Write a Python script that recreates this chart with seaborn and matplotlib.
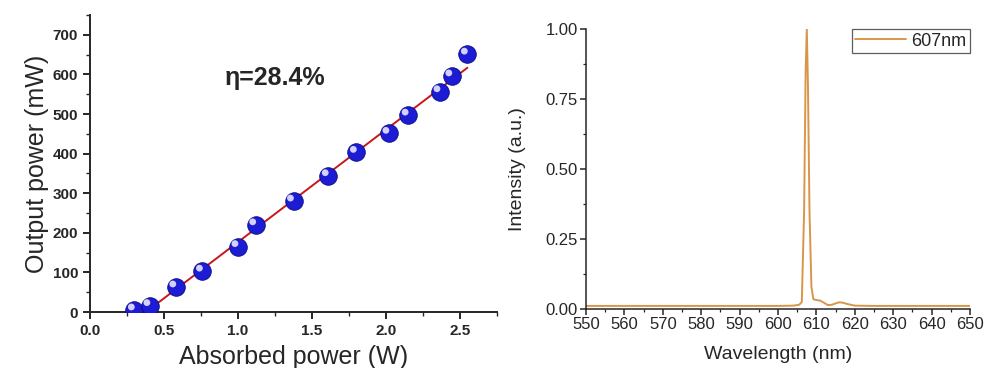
import numpy as np
import pandas as pd
import seaborn as sns
from matplotlib import pyplot as plt
from matplotlib import transforms
from matplotlib.ticker import MultipleLocator

# slope efficiency data (left panel)
absorbed_w = [0.30, 0.405, 0.58, 0.76, 1.00, 1.12, 1.375, 1.61, 1.80, 2.02, 2.15, 2.365, 2.445, 2.55]
output_mw = [5, 16, 63, 103, 165, 220, 280, 344, 403, 451, 497, 556, 596, 651]
fit_slope = 284.0      # mW per W  -> eta = 28.4 %
fit_threshold = 0.378  # W

# emission spectrum (right panel)
wavelength_nm = [550, 560, 570, 580, 590, 600, 604, 605.5, 606.2, 606.8, 607.2, 607.5, 607.8, 608.2,
                 608.7, 609.2, 610, 611, 612, 613, 614, 615, 616, 617, 618, 619, 620, 625, 630, 640, 650]
intensity = [0.011, 0.011, 0.011, 0.011, 0.011, 0.011, 0.012, 0.015, 0.025, 0.35, 0.85, 1.0, 0.80, 0.35,
             0.08, 0.035, 0.032, 0.030, 0.022, 0.014, 0.015, 0.020, 0.024, 0.022, 0.018, 0.015, 0.012,
             0.011, 0.011, 0.011, 0.011]

sns.set_theme(style="ticks")
plt.rcParams['font.family'] = ['Liberation Sans', 'DejaVu Sans']

fig = plt.figure(figsize=(9.84, 3.68), dpi=100)
ax1 = fig.add_axes([90 / 984, 1 - 312 / 368, 407 / 984, 297 / 368])
ax2 = fig.add_axes([586 / 984, 1 - 309 / 368, 384 / 984, 280 / 368])

# ---- left: output power vs absorbed power ----
fit_x = np.linspace(fit_threshold, absorbed_w[-1], 50)
fit_y = fit_slope * (fit_x - fit_threshold)
sns.lineplot(x=fit_x, y=fit_y, ax=ax1, color="#c8161b", linewidth=1.4, zorder=2)

pts = pd.DataFrame({"absorbed": absorbed_w, "output": output_mw})
sns.scatterplot(data=pts, x="absorbed", y="output", ax=ax1, s=160, color="#1c1cd4",
                edgecolor="#0a0a80", linewidth=0.6, zorder=3)
# little highlight on each ball to fake the 3D sphere look
hl = transforms.offset_copy(ax1.transData, fig=fig, x=-2.2, y=2.2, units="points")
ax1.scatter(pts["absorbed"], pts["output"], s=24, color="#d4d0ff", edgecolor="none",
            transform=hl, zorder=4)

ax1.set_xlim(0, 2.75)
ax1.set_ylim(0, 750)
ax1.xaxis.set_major_locator(MultipleLocator(0.5))
ax1.xaxis.set_minor_locator(MultipleLocator(0.25))
ax1.yaxis.set_major_locator(MultipleLocator(100))
ax1.yaxis.set_minor_locator(MultipleLocator(50))
ax1.set_yticks(range(0, 701, 100))
ax1.tick_params(which="major", length=5, width=1.4, labelsize=11)
ax1.tick_params(which="minor", length=3, width=1.0)
for lab in ax1.get_xticklabels() + ax1.get_yticklabels():
    lab.set_fontweight("bold")
ax1.set_xlabel("Absorbed power (W)", fontsize=18, labelpad=5)
ax1.set_ylabel("Output power (mW)", fontsize=18, labelpad=3)
ax1.text(1.25, 590, "η=28.4%", fontsize=18, fontweight="bold", ha="center", va="center")
for side in ("top", "right"):
    ax1.spines[side].set_visible(False)
for side in ("left", "bottom"):
    ax1.spines[side].set_linewidth(1.4)

# ---- right: spectrum ----
spec = pd.DataFrame({"wl": wavelength_nm, "I": intensity})
sns.lineplot(data=spec, x="wl", y="I", ax=ax2, color="#d9964a", linewidth=1.4, label="607nm")
ax2.set_xlim(550, 650)
ax2.set_ylim(0, 1.0)
ax2.xaxis.set_major_locator(MultipleLocator(10))
ax2.xaxis.set_minor_locator(MultipleLocator(5))
ax2.yaxis.set_major_locator(MultipleLocator(0.25))
ax2.yaxis.set_minor_locator(MultipleLocator(0.125))
ax2.yaxis.set_major_formatter(lambda v, p: f"{v:.2f}")
ax2.tick_params(which="major", length=4, width=1.1, labelsize=12, pad=2)
ax2.tick_params(which="minor", length=2.5, width=0.9)
ax2.set_xlabel("Wavelength (nm)", fontsize=14, labelpad=10)
ax2.set_ylabel("Intensity (a.u.)", fontsize=14, labelpad=14)
for side in ("top", "right"):
    ax2.spines[side].set_visible(False)
for side in ("left", "bottom"):
    ax2.spines[side].set_linewidth(1.1)
leg = ax2.legend(loc="upper right", fontsize=13, frameon=True, fancybox=False,
                 handlelength=2.8, borderpad=0.2, handletextpad=0.3, borderaxespad=0.0)
leg.get_frame().set_edgecolor("#333333")
leg.get_frame().set_linewidth(0.9)

fig.savefig("out.png", dpi=100)
